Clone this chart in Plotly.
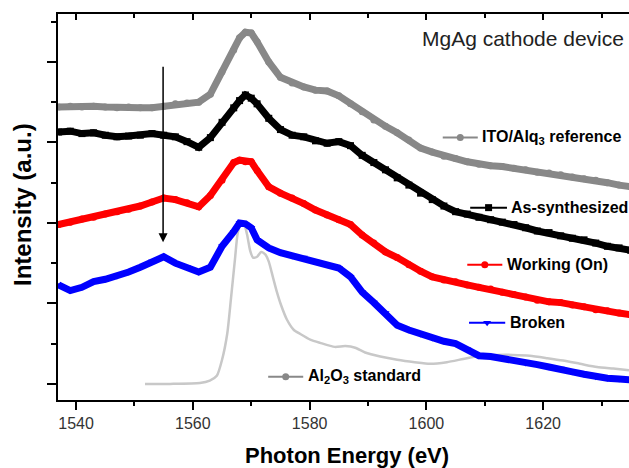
import plotly.graph_objects as go

# ---- data ----
energy = [1537, 1539, 1541, 1543, 1545, 1547, 1549, 1551, 1553, 1555, 1557, 1559, 1561, 1563,
          1565, 1567, 1568, 1569, 1570, 1571, 1573, 1575, 1577, 1579, 1581, 1583, 1585, 1587,
          1589, 1591, 1593, 1595, 1597, 1599, 1601, 1603, 1605, 1607, 1609, 1611, 1613, 1615,
          1617, 1619, 1621, 1623, 1625, 1627, 1629, 1631, 1633, 1635]

ito_ref = [3.44, 3.45, 3.44, 3.45, 3.44, 3.43, 3.44, 3.43, 3.43, 3.45, 3.48, 3.49, 3.50, 3.60,
           3.88, 4.15, 4.30, 4.37, 4.36, 4.25, 4.00, 3.81, 3.74, 3.69, 3.65, 3.64, 3.58, 3.48,
           3.38, 3.28, 3.20, 3.12, 3.03, 2.93, 2.88, 2.83, 2.80, 2.76, 2.73, 2.71, 2.70, 2.68,
           2.66, 2.63, 2.62, 2.60, 2.57, 2.55, 2.53, 2.50, 2.47, 2.45]

as_synth = [3.13, 3.14, 3.11, 3.12, 3.09, 3.07, 3.08, 3.09, 3.11, 3.09, 3.07, 3.01, 2.94, 3.06,
            3.25, 3.43, 3.52, 3.59, 3.55, 3.48, 3.30, 3.16, 3.09, 3.07, 3.02, 2.99, 3.01, 2.96,
            2.84, 2.75, 2.66, 2.56, 2.47, 2.37, 2.29, 2.21, 2.14, 2.11, 2.07, 2.04, 2.01, 1.98,
            1.94, 1.90, 1.88, 1.84, 1.81, 1.79, 1.75, 1.71, 1.69, 1.66]

working = [1.98, 2.01, 2.05, 2.07, 2.11, 2.14, 2.17, 2.21, 2.26, 2.31, 2.29, 2.25, 2.20, 2.34,
           2.53, 2.75, 2.78, 2.76, 2.76, 2.65, 2.45, 2.37, 2.31, 2.24, 2.16, 2.10, 2.04, 1.98,
           1.85, 1.75, 1.64, 1.57, 1.48, 1.40, 1.33, 1.29, 1.27, 1.23, 1.20, 1.18, 1.14, 1.11,
           1.08, 1.04, 1.02, 1.01, 0.98, 0.96, 0.92, 0.91, 0.88, 0.86]

broken = [1.23, 1.16, 1.20, 1.27, 1.30, 1.34, 1.39, 1.45, 1.52, 1.58, 1.50, 1.45, 1.39, 1.45,
          1.71, 1.89, 2.00, 1.99, 1.94, 1.79, 1.69, 1.63, 1.59, 1.57, 1.52, 1.48, 1.44, 1.33,
          1.14, 1.01, 0.88, 0.73, 0.67, 0.62, 0.57, 0.53, 0.50, 0.43, 0.35, 0.34, 0.32, 0.30,
          0.26, 0.24, 0.21, 0.19, 0.15, 0.12, 0.09, 0.07, 0.06, 0.05]

al2o3_energy = [1551.8, 1556.1, 1561.2, 1562.9, 1564.1, 1565.0, 1565.9, 1566.5, 1567.2, 1567.7,
                1568.3, 1568.8, 1569.3, 1569.8, 1570.3, 1571.0, 1571.7, 1572.4, 1573.0, 1573.7,
                1574.4, 1575.1, 1576.1, 1577.3, 1578.4, 1580.1, 1581.8, 1584.3, 1586.1, 1587.8,
                1589.5, 1592.1, 1595.0, 1598.0, 1600.6, 1603.5, 1606.3, 1609.2, 1612.1, 1614.8,
                1617.7, 1620.7, 1623.4, 1626.3, 1629.2, 1632.0, 1634.7]
al2o3 = [0.00, 0.00, 0.01, 0.04, 0.10, 0.30, 0.63, 1.04, 1.54, 1.88,
         2.00, 1.98, 1.85, 1.66, 1.57, 1.58, 1.64, 1.61, 1.52, 1.33,
         1.14, 0.98, 0.80, 0.67, 0.62, 0.55, 0.51, 0.46, 0.47, 0.45,
         0.39, 0.34, 0.30, 0.27, 0.25, 0.27, 0.31, 0.35, 0.36, 0.36,
         0.35, 0.32, 0.29, 0.25, 0.21, 0.19, 0.17]

x_ticks = [1540, 1560, 1580, 1600, 1620]

FONT = "Arial, Liberation Sans, sans-serif"
GRAY = "#888888"
LIGHT = "#c8c8c8"

fig = go.Figure()

series = [
    ("ITO/Alq<sub>3</sub> reference", ito_ref, GRAY, "circle"),
    ("As-synthesized", as_synth, "#000000", "square"),
    ("Working (On)", working, "#ff0000", "circle"),
    ("Broken", broken, "#0000ff", "triangle-down"),
]

fig.add_trace(go.Scatter(x=al2o3_energy, y=al2o3, mode="lines",
                         line=dict(color=LIGHT, width=2.5, shape="spline", smoothing=0.6),
                         showlegend=False, hoverinfo="skip"))

for name, vals, col, sym in series:
    fig.add_trace(go.Scatter(x=energy, y=vals, mode="lines+markers",
                             line=dict(color=col, width=7),
                             marker=dict(color=col, size=7, symbol=sym),
                             showlegend=False, name=name))

# inline legend entries (line sample + marker + label), in data units
legend_items = [
    ("ITO/Alq<sub>3</sub> reference", GRAY, "circle", 1602.8, 1608.8, 3.06),
    ("As-synthesized", "#000000", "square", 1607.5, 1613.8, 2.19),
    ("Working (On)", "#ff0000", "circle", 1607.0, 1613.0, 1.48),
    ("Broken", "#0000ff", "triangle-down", 1607.3, 1613.5, 0.76),
    ("Al<sub>2</sub>O<sub>3</sub> standard", GRAY, "circle", 1572.9, 1578.9, 0.09),
]
for label, col, sym, x0, x1, yy in legend_items:
    fig.add_trace(go.Scatter(x=[x0, x1], y=[yy, yy], mode="lines",
                             line=dict(color=col, width=2),
                             showlegend=False, hoverinfo="skip"))
    fig.add_trace(go.Scatter(x=[(x0 + x1) / 2], y=[yy], mode="markers",
                             marker=dict(color=col, size=7, symbol=sym),
                             showlegend=False, hoverinfo="skip"))
    fig.add_annotation(x=x1 + 0.4, y=yy, xref="x", yref="y", text="<b>%s</b>" % label,
                       showarrow=False, xanchor="left", yanchor="middle",
                       font=dict(family=FONT, size=16, color="#000000"))

# arrow
fig.add_annotation(x=1554.9, y=1.76, ax=1554.9, ay=3.96, xref="x", yref="y",
                   axref="x", ayref="y", text="", showarrow=True,
                   arrowhead=2, arrowsize=1.2, arrowwidth=1.5, arrowcolor="#000000")

# top-right label
fig.add_annotation(x=0.995, y=(400 - 38) / 386, xref="paper", yref="paper",
                   text="MgAg cathode device", showarrow=False, xanchor="right",
                   yanchor="middle", font=dict(family=FONT, size=21, color="#222222"))

# axis titles
fig.add_annotation(x=(347 - 58) / 571, y=-(455 - 400) / 386, xref="paper", yref="paper",
                   text="<b>Photon Energy (eV)</b>", showarrow=False,
                   xanchor="center", yanchor="middle",
                   font=dict(family=FONT, size=22, color="#000000"))
fig.add_annotation(x=-(58 - 22) / 571, y=(400 - 205) / 386, xref="paper", yref="paper",
                   text="<b>Intensity (a.u.)</b>", showarrow=False, textangle=-90,
                   xanchor="center", yanchor="middle",
                   font=dict(family=FONT, size=24, color="#000000"))

xrange = [1536.9, 1634.7]
fig.update_layout(
    width=629, height=468,
    margin=dict(l=58, r=0, t=14, b=68),
    paper_bgcolor="white", plot_bgcolor="white",
    showlegend=False,
    xaxis=dict(range=xrange, showgrid=False, zeroline=False,
               showline=True, linecolor="#000000", linewidth=2,
               ticks="outside", ticklen=8, tickwidth=2, tickcolor="#000000",
               tickvals=x_ticks, ticktext=[str(v) for v in x_ticks],
               tickfont=dict(family=FONT, size=16, color="#333333"),
               minor=dict(ticks="outside", ticklen=4, tickwidth=2, dtick=10,
                          tick0=1540, tickcolor="#000000")),
    xaxis2=dict(range=xrange, overlaying="x", side="top", showgrid=False,
                zeroline=False, showline=True, linecolor="#000000", linewidth=2,
                ticks="inside", ticklen=6, tickwidth=2, tickcolor="#000000",
                tickvals=x_ticks, showticklabels=False,
                minor=dict(ticks="inside", ticklen=4, tickwidth=2, dtick=10,
                           tick0=1540, tickcolor="#000000")),
    yaxis=dict(range=[-0.2, 4.596], showgrid=False, zeroline=False,
               showline=True, linecolor="#000000", linewidth=2,
               ticks="outside", ticklen=9, tickwidth=2, tickcolor="#000000",
               tick0=0, dtick=1, showticklabels=False,
               minor=dict(ticks="outside", ticklen=5, tickwidth=2, dtick=0.5,
                          tick0=0, tickcolor="#000000")),
)
# dummy trace to activate the top axis
fig.add_trace(go.Scatter(x=[xrange[0]], y=[None], xaxis="x2", mode="lines",
                         showlegend=False, hoverinfo="skip"))

fig.write_html("out.html")
